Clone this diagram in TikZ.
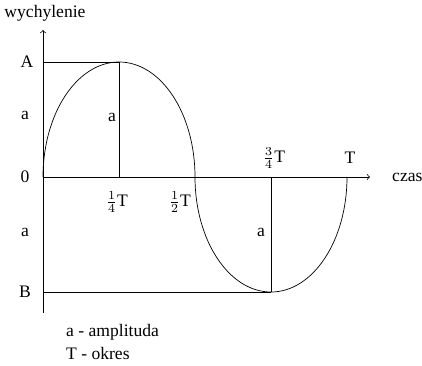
\documentclass[tikz,border=0pt]{standalone}
\usepackage{amsmath}
\usepackage{fontspec}
\setmainfont{Liberation Serif}
\usepackage{tikz}
\usetikzlibrary{arrows,calc}

\begin{document}
\begin{tikzpicture}[scale=1, font=\normalsize]

			\def\q{1.52}   % quarter of the period
			\def\amp{2.3}  % amplitude
			\def\xmax{6.54} \def\ymin{-2.72} \def\ymax{2.94}
			\def\lblx{-0.36} % column of the labels on the left

			\pgfmathsetmacro{\half}{2*\q}
			\pgfmathsetmacro{\tq}{3*\q}
			\pgfmathsetmacro{\per}{4*\q}

			% fixed frame of the picture
			\useasboundingbox (-0.86,-3.76) rectangle (7.58,3.54);

			% Axes
			\draw[->] (0,\ymin) -- (0,\ymax) coordinate (ytip);
			\draw[->] (0,0) -- (\xmax,0) coordinate (xtip);
			\node (wych) at (0.04,3.28) {wychylenie};
			\node[anchor=west] (czas) at (6.86,0) {czas};

			% points of the curve
			\coordinate (O) at (0,0);
			\coordinate (top) at (\q,\amp);
			\coordinate (mid) at (\half,0);
			\coordinate (bot) at (\tq,-\amp);
			\coordinate (end) at (\per,0);

			% levels A and B
			\draw (0,\amp) -- (top);
			\draw (0,-\amp) -- (bot);

			% amplitude bars
			\draw (top) -- (\q,0);
			\draw (bot) -- (\tq,0);

			% the curve: four quarter ellipses
			\draw (O) arc[start angle=180, end angle=90, x radius=\q, y radius=\amp]
				arc[start angle=90, end angle=0, x radius=\q, y radius=\amp]
				arc[start angle=180, end angle=270, x radius=\q, y radius=\amp]
				arc[start angle=270, end angle=360, x radius=\q, y radius=\amp];

			% labels on the left
			\node (lA) at (\lblx+0.04,\amp) {A};
			\node (la1) at (\lblx,1.24) {a};
			\node (l0) at (\lblx,0) {0};
			\node (la2) at (\lblx,-1.1) {a};
			\node (lB) at (\lblx,-\amp) {B};

			% labels of the bars
			\node (ba1) at (1.38,1.2) {a};
			\node (ba2) at (4.36,-1.1) {a};

			% time labels
			\node (t1) at (1.48,-0.5) {$\frac{1}{4}$T};
			\node (t2) at (2.74,-0.5) {$\frac{1}{2}$T};
			\node (t3) at (4.62,0.38) {$\frac{3}{4}$T};
			\node (t4) at (6.14,0.38) {T};

			% legend
			\node[anchor=west] (leg1) at (0.34,-3.1) {a - amplituda};
			\node[anchor=west] (leg2) at (0.34,-3.52) {T - okres};

		\end{tikzpicture}
\end{document}
